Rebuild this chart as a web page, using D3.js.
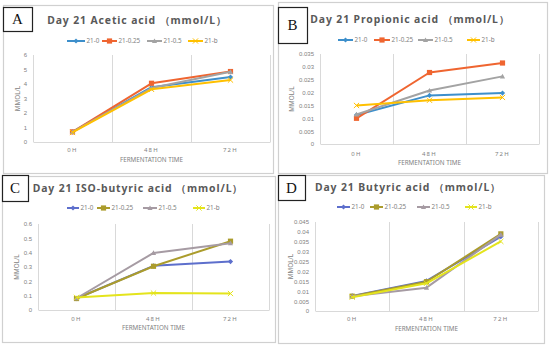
<!DOCTYPE html>
<html>
<head>
<meta charset="utf-8">
<script src="https://cdn.jsdelivr.net/npm/d3@7"></script>
<style>
  html, body { margin: 0; padding: 0; background: #fff; }
  svg { display: block; font-family: "Noto Sans", "DejaVu Sans", sans-serif; }
  .title { font-weight: bold; fill: #595959; font-size: 10.4px; letter-spacing: 0.9px; }
  .tick-label { fill: #7f7f7f; font-size: 6px; }
  .legend-label, .axis-title { fill: #7f7f7f; font-size: 6.3px; }
  .panel-letter { font-family: "Liberation Serif", serif; font-size: 15px; fill: #111; }
</style>
</head>
<body>
<svg id="chart" width="550" height="347"></svg>
<script>
const categories = ["0H", "48H", "72H"];
const seriesNames = ["21-0", "21-0.25", "21-0.5", "21-b"];

// values per series, in category order
const aceticValues = [
  [0.70, 3.78, 4.48],
  [0.70, 4.05, 4.86],
  [0.70, 3.72, 4.84],
  [0.66, 3.63, 4.27],
];
const propionicValues = [
  [0.0113, 0.0189, 0.0198],
  [0.0100, 0.0278, 0.0315],
  [0.0115, 0.0208, 0.0263],
  [0.0150, 0.0170, 0.0181],
];
const isoButyricValues = [
  [0.080, 0.308, 0.338],
  [0.080, 0.305, 0.480],
  [0.082, 0.398, 0.466],
  [0.088, 0.118, 0.115],
];
const butyricValues = [
  [0.0076, 0.0152, 0.0376],
  [0.0075, 0.0148, 0.0390],
  [0.0074, 0.0118, 0.0386],
  [0.0070, 0.0140, 0.0352],
];

const aceticTicks = [0, 1, 2, 3, 4, 5, 6];
const propionicTicks = [0, 0.005, 0.01, 0.015, 0.02, 0.025, 0.03, 0.035];
const isoButyricTicks = [0, 0.1, 0.2, 0.3, 0.4, 0.5, 0.6];
const butyricTicks = [0, 0.005, 0.01, 0.015, 0.02, 0.025, 0.03, 0.035, 0.04, 0.045];

const paletteAB = ["#3d8fcb", "#ef6530", "#a3a3a3", "#ffc000"];
const paletteCD = ["#5d6fcc", "#ab9c2c", "#a69ba3", "#e4e41c"];
const markerShapes = ["diamond", "square", "triangle", "x"];

const panels = [
  {
    letter: "A", title: "Day 21 Acetic acid （mmol/L）", values: aceticValues, ticks: aceticTicks, colors: paletteAB,
    frame: { x: 3, y: 5, w: 270, h: 168 }, box: { x: 3, y: 7, w: 29, h: 24 },
    titleAt: [137, 24], legendY: 41, legendX: [67, 102, 147, 188], legendLen: [18, 15, 15, 15],
    plot: { left: 33, right: 270, top: 55, bottom: 142 }, tickY: 152, xTitleY: 162, yLabelX: 18,
  },
  {
    letter: "B", title: "Day 21 Propionic acid （mmol/L）", values: propionicValues, ticks: propionicTicks, colors: paletteAB,
    frame: { x: 278, y: 2, w: 269, h: 171 }, box: { x: 278, y: 7, w: 29, h: 36 },
    titleAt: [410, 23], legendY: 40, legendX: [338, 374, 418, 467], legendLen: [15, 16, 15, 13],
    plot: { left: 320, right: 539, top: 54, bottom: 144 }, tickY: 156, xTitleY: 165, yLabelX: 292,
  },
  {
    letter: "C", title: "Day 21 ISO-butyric acid （mmol/L）", values: isoButyricValues, ticks: isoButyricTicks, colors: paletteCD,
    frame: { x: 2, y: 176, w: 273, h: 166 }, box: { x: 2, y: 175, w: 26, h: 26 },
    titleAt: [138, 192], legendY: 208, legendX: [67, 97, 143, 193], legendLen: [12, 13, 14, 12],
    plot: { left: 38, right: 269, top: 224, bottom: 310 }, tickY: 321, xTitleY: 330, yLabelX: 17,
  },
  {
    letter: "D", title: "Day 21 Butyric acid （mmol/L）", values: butyricValues, ticks: butyricTicks, colors: paletteCD,
    frame: { x: 278, y: 175, w: 266, h: 168 }, box: { x: 278, y: 175, w: 27, h: 25 },
    titleAt: [408, 191], legendY: 207, legendX: [337, 370, 417, 465], legendLen: [13, 13, 13, 12],
    plot: { left: 315, right: 538, top: 222, bottom: 311 }, tickY: 321, xTitleY: 331, yLabelX: 291,
  },
];

const svg = d3.select("#chart");
const fmt = (v) => String(+v.toFixed(4));

function drawMarker(g, shape, cx, cy, color) {
  const s = 2.6;
  if (shape === "diamond") {
    g.append("path").attr("d", `M${cx},${cy - s}L${cx + s},${cy}L${cx},${cy + s}L${cx - s},${cy}Z`).attr("fill", color);
  } else if (shape === "square") {
    g.append("rect").attr("x", cx - s).attr("y", cy - s).attr("width", 2 * s).attr("height", 2 * s).attr("fill", color);
  } else if (shape === "triangle") {
    g.append("path").attr("d", `M${cx},${cy - s}L${cx + s},${cy + s * 0.8}L${cx - s},${cy + s * 0.8}Z`).attr("fill", color);
  } else {
    g.append("path").attr("d", `M${cx - s},${cy - s}L${cx + s},${cy + s}M${cx - s},${cy + s}L${cx + s},${cy - s}`)
      .attr("stroke", color).attr("stroke-width", 1);
  }
}

panels.forEach((p) => {
  const g = svg.append("g");

  g.append("rect")
    .attr("x", p.frame.x + 0.5).attr("y", p.frame.y + 0.5)
    .attr("width", p.frame.w).attr("height", p.frame.h)
    .attr("fill", "none").attr("stroke", "#d0d0d0").attr("stroke-width", 1.2);

  g.append("rect")
    .attr("x", p.box.x + 0.5).attr("y", p.box.y + 0.5)
    .attr("width", p.box.w).attr("height", p.box.h)
    .attr("fill", "#fff").attr("stroke", "#222").attr("stroke-width", 1.2);
  g.append("text").attr("class", "panel-letter")
    .attr("x", p.box.x + p.box.w / 2).attr("y", p.box.y + p.box.h / 2)
    .attr("dy", "0.36em").attr("text-anchor", "middle").text(p.letter);

  g.append("text").attr("class", "title")
    .attr("x", p.titleAt[0]).attr("y", p.titleAt[1])
    .attr("text-anchor", "middle").text(p.title);

  const x = d3.scaleBand().domain(categories).range([p.plot.left, p.plot.right]).padding(0);
  const y = d3.scaleLinear().domain([0, d3.max(p.ticks)]).range([p.plot.bottom, p.plot.top]);

  // vertical gridlines at category boundaries
  const bounds = categories.map((c) => x(c)).concat([p.plot.right]);
  g.append("g").selectAll("line").data(bounds).join("line")
    .attr("x1", (d) => Math.round(d) + 0.5).attr("x2", (d) => Math.round(d) + 0.5)
    .attr("y1", p.plot.top).attr("y2", p.plot.bottom)
    .attr("stroke", "#d9d9d9").attr("stroke-width", 1);

  g.append("g")
    .attr("transform", `translate(0,${p.plot.bottom})`)
    .call(d3.axisBottom(x).tickSize(0).tickFormat(""))
    .call((a) => a.select(".domain").attr("stroke", "#d9d9d9"));

  g.append("g").selectAll("text").data(categories).join("text")
    .attr("class", "tick-label")
    .attr("x", (c) => x(c) + x.bandwidth() / 2).attr("y", p.tickY)
    .attr("text-anchor", "middle").attr("letter-spacing", "1.3px").text((c) => c);

  g.append("g")
    .attr("transform", `translate(${p.plot.left},0)`)
    .call(d3.axisLeft(y).tickValues(p.ticks).tickSize(0).tickPadding(6).tickFormat(fmt))
    .call((a) => a.select(".domain").remove())
    .call((a) => a.selectAll("text").attr("class", "tick-label").attr("font-family", null).attr("font-size", null));

  g.append("text").attr("class", "axis-title")
    .attr("x", (p.plot.left + p.plot.right) / 2).attr("y", p.xTitleY)
    .attr("text-anchor", "middle").text("FERMENTATION TIME");

  g.append("text").attr("class", "axis-title")
    .attr("transform", `translate(${p.yLabelX},${(p.plot.top + p.plot.bottom) / 2}) rotate(-90)`)
    .attr("text-anchor", "middle").attr("dy", "0.35em").text("MMOL/L");

  const line = d3.line().x((d, i) => x(categories[i]) + x.bandwidth() / 2).y((d) => y(d));

  p.values.forEach((vals, si) => {
    const color = p.colors[si];
    g.append("path").datum(vals)
      .attr("d", line).attr("fill", "none")
      .attr("stroke", color).attr("stroke-width", 2).attr("stroke-linejoin", "round");
    vals.forEach((v, i) => drawMarker(g, markerShapes[si], x(categories[i]) + x.bandwidth() / 2, y(v), color));
  });

  // legend
  seriesNames.forEach((name, si) => {
    const lx = p.legendX[si];
    const len = p.legendLen[si];
    const color = p.colors[si];
    g.append("line").attr("x1", lx).attr("x2", lx + len)
      .attr("y1", p.legendY).attr("y2", p.legendY)
      .attr("stroke", color).attr("stroke-width", 2);
    drawMarker(g, markerShapes[si], lx + len / 2, p.legendY, color);
    g.append("text").attr("class", "legend-label")
      .attr("x", lx + len + 1.5).attr("y", p.legendY).attr("dy", "0.35em").text(name);
  });
});
</script>
</body>
</html>
